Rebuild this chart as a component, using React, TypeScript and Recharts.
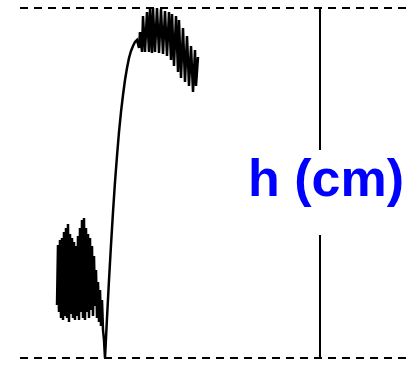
import {
    ComposedChart,
    Line,
    XAxis,
    YAxis,
    ReferenceLine,
    ReferenceDot,
} from "recharts";

// time (arbitrary units) and height (mm)
const times = [
    3.7, 3.8, 3.9, 4.0, 4.1, 4.2, 4.3, 4.4, 4.5, 4.6, 4.7, 4.8, 4.9, 5.0, 5.1, 5.2,
    5.3, 5.4, 5.5, 5.6, 5.7, 5.8, 5.9, 6.0, 6.1, 6.2, 6.3, 6.4, 6.5, 6.6, 6.7, 6.8,
    6.9, 7.0, 7.1, 7.2, 7.3, 7.4, 7.5, 7.6, 7.7, 7.8, 7.9, 8.0, 8.1, 8.2, 8.3, 8.4,
    8.5, 8.7, 8.9, 9.1, 9.3, 9.5, 9.7, 9.9, 10.1, 10.3, 10.5, 10.7, 10.9, 11.1,
    11.3, 11.5, 11.7, 11.9, 12.0, 12.2, 12.3, 12.5, 12.7, 12.9, 13.0, 13.2, 13.3,
    13.5, 13.7, 13.9, 14.1, 14.3, 14.5, 14.7, 14.9, 15.1, 15.2, 15.4, 15.6, 15.8,
    15.9, 16.1, 16.3, 16.5, 16.7, 16.9, 17.1, 17.3, 17.5, 17.6, 17.8,
];

const heights = [
    5.3, 11.3, 4.6, 11.8, 4.0, 12.0, 3.8, 12.6, 4.2, 13.0, 4.0, 13.4, 3.6, 12.4, 4.4, 12.0,
    4.0, 11.6, 3.8, 11.2, 4.2, 12.2, 3.8, 13.0, 4.6, 13.8, 4.0, 14.0, 3.8, 13.0, 4.6, 12.4,
    4.0, 12.0, 4.8, 11.2, 4.2, 10.2, 5.2, 8.8, 4.0, 7.6, 3.6, 6.8, 3.2, 5.8, 2.8, 1.8,
    0.0, 4.0, 7.8, 11.3, 14.6, 17.6, 20.2, 22.6, 24.6, 26.3, 27.8, 29.0, 30.0, 30.7,
    31.2, 31.6, 31.8, 31.0, 32.6, 30.6, 34.2, 30.6, 34.6, 30.6, 34.9, 30.5, 35.0,
    30.6, 35.0, 30.5, 34.9, 30.4, 34.7, 30.2, 34.6, 29.8, 34.4, 29.2, 34.2, 28.6,
    33.8, 28.0, 33.0, 27.6, 32.2, 27.2, 31.2, 26.6, 30.8, 27.2, 30.1,
];

const data = times.map((t, i) => ({ t, h: heights[i] }));

const hMin = 0;
const hMax = 35;
const scaleX = 30;
const gapLow = 12.3;
const gapHigh = 20.8;
const labelText = "h (cm)";

const App = () => {
    return (
        <div style={{ position: "absolute", left: 0, top: 0, width: 408, height: 366 }}>
            <ComposedChart
                width={408}
                height={366}
                data={data}
                margin={{ top: 8, right: 0, bottom: 8, left: 20 }}
            >
                <XAxis type="number" dataKey="t" domain={[0, 38.8]} hide allowDataOverflow />
                <YAxis type="number" domain={[hMin, hMax]} hide allowDataOverflow />
                <ReferenceLine y={hMin} stroke="#000" strokeWidth={2} strokeDasharray="8 6" />
                <ReferenceLine y={hMax} stroke="#000" strokeWidth={2} strokeDasharray="8 6" />
                <ReferenceLine
                    segment={[{ x: scaleX, y: hMin }, { x: scaleX, y: gapLow }]}
                    stroke="#000"
                    strokeWidth={2}
                />
                <ReferenceLine
                    segment={[{ x: scaleX, y: gapHigh }, { x: scaleX, y: hMax }]}
                    stroke="#000"
                    strokeWidth={2}
                />
                <ReferenceDot
                    x={30.6}
                    y={16.2}
                    r={0}
                    shape={(p: any) => (
                        <text
                            x={p.cx}
                            y={p.cy}
                            textAnchor="middle"
                            fill="#0000ff"
                            fontFamily="'Liberation Sans', Arial, sans-serif"
                            fontWeight="bold"
                            fontSize={52}
                        >
                            {labelText}
                        </text>
                    )}
                />
                <Line
                    type="linear"
                    dataKey="h"
                    stroke="#000"
                    strokeWidth={2.5}
                    dot={false}
                    isAnimationActive={false}
                />
            </ComposedChart>
        </div>
    );
};

export default App;
